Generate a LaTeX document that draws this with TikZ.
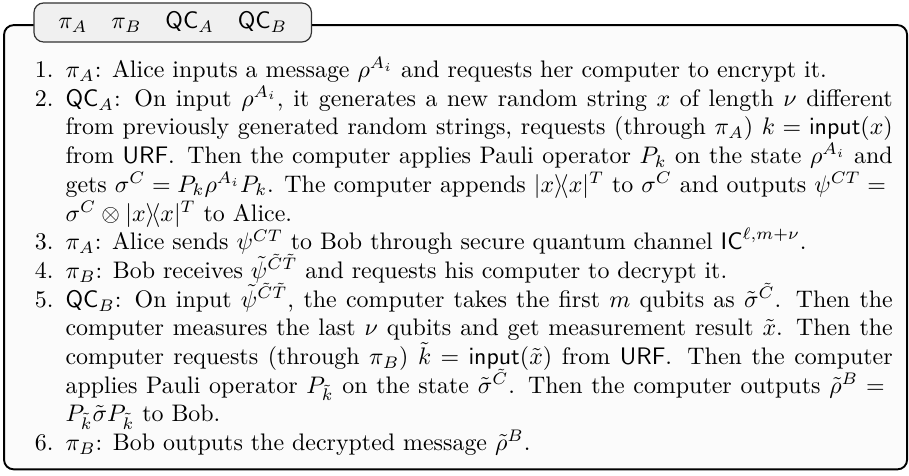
\documentclass[tikz,border=0pt]{standalone}
\usepackage{amsmath}
\usetikzlibrary{calc,positioning}

\newcommand{\stepno}[1]{\leavevmode\llap{#1.\hspace{5pt}}}

\begin{document}
\begin{tikzpicture}[x=1pt,y=1pt]

\tikzstyle{frame} = [draw=black,fill=gray!3,rounded corners=4pt,line width=0.8pt]
\tikzstyle{tabbox} = [rectangle,draw=black!80,fill=gray!12,rounded corners=4pt,line width=0.5pt,minimum width=116pt,minimum height=16.3pt,inner sep=0pt,text=black]
\tikzstyle{steps} = [anchor=north west,inner sep=0pt,text width=359.2pt,align=justify,text=black]

\useasboundingbox (0,0) rectangle (380,-198.6);

\draw[frame] (1.7,-10.5) rectangle (379.2,-196.2);

\node[tabbox] (parties) at (72.2,-9.4) {$\pi_A$\quad $\pi_B$\quad $\mathsf{QC}_A$\quad $\mathsf{QC}_B$};

\node[steps] (protocol) at (13.8,-22.2) {%
\leftskip=13.4pt\parindent=0pt\lineskiplimit=-5pt%
\rule{0pt}{10pt}\stepno{1}$\pi_A$: Alice inputs a message $\rho^{A_i}$ and requests her computer to encrypt it.\par
\stepno{2}$\mathsf{QC}_A$: On input $\rho^{A_i}$, it generates a new random string $x$ of length $\nu$ different\linebreak
from previously generated random strings, requests (through $\pi_A$) $k=\mathsf{input}(x)$\linebreak
from $\mathsf{URF}$. Then the computer applies Pauli operator $P_k$ on the state $\rho^{A_i}$ and\linebreak
gets $\sigma^C=P_k\rho^{A_i}P_k$. The computer appends $|x\rangle\!\langle x|^T$ to $\sigma^C$ and outputs $\psi^{CT}={}$\linebreak
$\sigma^C\otimes|x\rangle\!\langle x|^T$ to Alice.\par
\stepno{3}$\pi_A$: Alice sends $\psi^{CT}$ to Bob through secure quantum channel $\mathsf{IC}^{\ell,m+\nu}$.\par
\stepno{4}$\pi_B$: Bob receives $\tilde{\psi}^{\tilde{C}\tilde{T}}$ and requests his computer to decrypt it.\par
\stepno{5}$\mathsf{QC}_B$: On input $\tilde{\psi}^{\tilde{C}\tilde{T}}$, the computer takes the first $m$ qubits as $\tilde{\sigma}^{\tilde{C}}$. Then the\linebreak
computer measures the last $\nu$ qubits and get measurement result $\tilde{x}$. Then the\linebreak
computer requests (through $\pi_B$) $\tilde{k}=\mathsf{input}(\tilde{x})$ from $\mathsf{URF}$. Then the computer\linebreak
applies Pauli operator $P_{\tilde{k}}$ on the state $\tilde{\sigma}^{\tilde{C}}$. Then the computer outputs $\tilde{\rho}^B={}$\linebreak
$P_{\tilde{k}}\tilde{\sigma}P_{\tilde{k}}$ to Bob.\par
\stepno{6}$\pi_B$: Bob outputs the decrypted message $\tilde{\rho}^B$.\par};

\end{tikzpicture}
\end{document}
